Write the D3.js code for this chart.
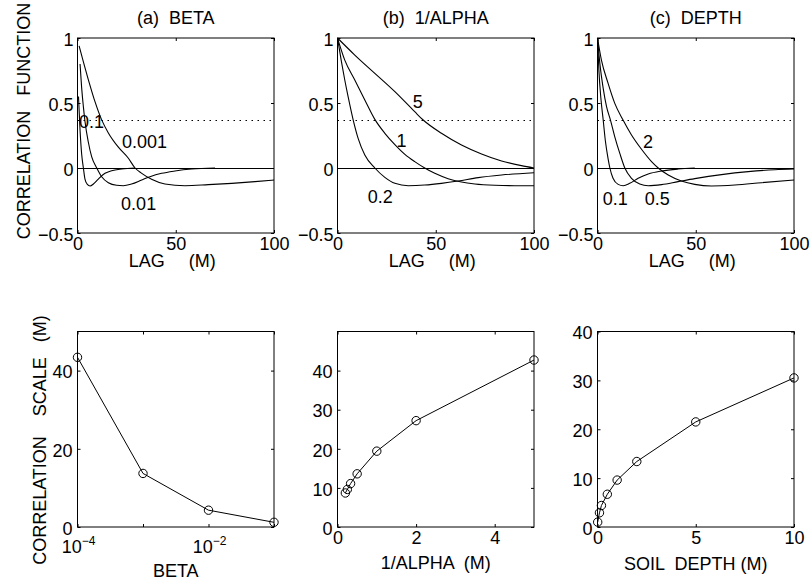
<!DOCTYPE html>
<html><head><meta charset="utf-8">
<script src="https://cdn.jsdelivr.net/npm/d3@7"></script>
<style>
body{margin:0;background:#fff}
text{font-family:"Liberation Sans",Arial,Helvetica,sans-serif;fill:#000}
</style>
</head><body>
<svg id="c" width="811" height="580" xmlns="http://www.w3.org/2000/svg"></svg>
<script>
// ---------------- DATA ----------------
const lagTicks = [0, 50, 100];
const corrTicks = [-0.5, 0, 0.5, 1];
const efoldLevel = 0.368;

// (a) BETA : correlation function vs lag  [lag (m), correlation]
const betaCurve0_001 = [[0.8,0.94],[5.5,0.68],[8.9,0.51],[12.3,0.37],[15.7,0.27],[20.8,0.16],[25.9,0.075],[29.3,0],[32.7,-0.041],[37.7,-0.087],[44.5,-0.123],[54.7,-0.136],[66.6,-0.128],[78.5,-0.118],[90.3,-0.105],[100,-0.092]];
const betaCurve0_01 = [[1.3,0.80],[2.1,0.62],[3.0,0.47],[3.8,0.36],[5.5,0.2],[7.2,0.087],[9.8,0],[12.3,-0.067],[15.7,-0.113],[19.9,-0.133],[23.3,-0.136],[27.5,-0.123],[32.7,-0.092],[36.9,-0.067],[42.8,-0.041],[49.6,-0.023],[58.1,-0.008],[70,0]];
const betaCurve0_1 = [[0.5,0.55],[1.3,0.29],[2.1,0.11],[3.0,0],[3.8,-0.085],[5.0,-0.126],[6.4,-0.138],[8.1,-0.123],[10.6,-0.085],[14,-0.041],[17.4,-0.021],[22.5,-0.008],[29.3,0]];
const betaCurveLabels = ["0.001", "0.01", "0.1"];

// (b) 1/ALPHA
const alphaCurve0_2 = [[0,1],[2,0.818],[3.7,0.677],[5.4,0.549],[8,0.369],[10.5,0.228],[13.9,0.1],[19,0],[24.1,-0.072],[29.2,-0.118],[36,-0.136],[44.4,-0.131],[52.9,-0.118],[61.4,-0.1],[71.6,-0.074],[83.5,-0.054],[100,-0.036]];
const alphaCurve1 = [[0,1],[3.7,0.83],[8.8,0.677],[13.9,0.523],[19,0.374],[24.1,0.267],[29.2,0.18],[34.3,0.105],[39.3,0.049],[44.4,0],[49.5,-0.041],[56.3,-0.082],[63.1,-0.108],[69.9,-0.123],[80.1,-0.133],[90.2,-0.136],[100,-0.136]];
const alphaCurve5 = [[0,1],[8.8,0.869],[19,0.728],[29.2,0.587],[39.3,0.433],[43.6,0.369],[52.9,0.267],[63.1,0.177],[73.3,0.108],[83.5,0.054],[93.6,0.018],[100,0]];
const alphaCurveLabels = ["5", "1", "0.2"];

// (c) DEPTH
const depthCurve0_1 = [[0,1],[0.7,0.754],[1.7,0.54],[2.9,0.369],[4.0,0.21],[5.4,0.07],[6.3,0],[7.9,-0.079],[10.5,-0.126],[13.1,-0.136],[16.4,-0.118],[20.7,-0.079],[25.8,-0.046],[32.6,-0.023],[41,-0.008],[49.5,0]];
const depthCurve0_5 = [[0,1],[1.2,0.805],[2.9,0.613],[4.6,0.472],[6.6,0.369],[8.8,0.24],[11.4,0.11],[13.9,0],[17.3,-0.079],[21.5,-0.123],[25.8,-0.136],[32.6,-0.128],[41,-0.105],[49.5,-0.082],[63.1,-0.051],[76.7,-0.028],[90.2,-0.013],[100,-0.008]];
const depthCurve2 = [[0,1],[2,0.83],[5.4,0.651],[8.8,0.497],[13,0.369],[17.3,0.254],[22.4,0.144],[27.5,0.049],[30.9,0],[36,-0.054],[42.7,-0.1],[49.5,-0.126],[58,-0.138],[69.9,-0.131],[83.5,-0.113],[100,-0.092]];
const depthCurveLabels = ["2", "0.5", "0.1"];

// bottom row: correlation scale (m)
const betaValues = [1e-4, 1e-3, 1e-2, 1e-1];
const betaScale = [43.4, 13.7, 4.3, 1.2];
const betaTickValues = [1e-4, 1e-3, 1e-2, 1e-1];
const betaTickLabels = [["10","\u22124"], null, ["10","\u22122"], null];
const betaScaleTicks = [0, 20, 40];

const invAlphaValues = [0.2, 0.25, 0.333, 0.5, 1, 2, 5];
const invAlphaScale = [8.7, 9.6, 11.1, 13.6, 19.4, 27.2, 42.7];
const invAlphaTicks = [0, 2, 4];
const invAlphaScaleTicks = [0, 10, 20, 30, 40];

const depthValues = [0.01, 0.1, 0.2, 0.5, 1, 2, 5, 10];
const depthScale = [1.0, 2.9, 4.4, 6.7, 9.6, 13.4, 21.5, 30.5];
const depthTicks = [0, 5, 10];
const depthScaleTicks = [0, 10, 20, 30, 40];

// ---------------- LAYOUT ----------------
const FS = 18;
const svg = d3.select("#c");
const lefts = [77.5, 337.5, 597.5];
const PW = 196.5;
const topY0 = 38, topY1 = 233;
const botY0 = 331.5, botY1 = 527;
const TICK = 3;

function box(g, x0, y0, x1, y1) {
  g.append("rect").attr("x", x0).attr("y", y0).attr("width", x1 - x0).attr("height", y1 - y0)
    .attr("fill", "none").attr("stroke", "#000").attr("stroke-width", 1);
}
function styleAxis(sel) {
  sel.select(".domain").remove();
  sel.selectAll(".tick line").attr("stroke", "#000");
  sel.selectAll("text").attr("font-size", FS).attr("fill", "#000").attr("font-family", null);
}
function mirrorTicks(g, x, y, xt, yt, x0, x1, y0, y1) {
  g.append("g").attr("transform", `translate(0,${y0})`).call(d3.axisTop(x).tickValues(xt).tickSize(-TICK).tickFormat("")).call(styleAxis);
  g.append("g").attr("transform", `translate(${x1},0)`).call(d3.axisRight(y).tickValues(yt).tickSize(-TICK).tickFormat("")).call(styleAxis);
}

// ---------------- TOP ROW ----------------
const topPanels = [
  {title: "(a)  BETA", curves: [betaCurve0_001, betaCurve0_01, betaCurve0_1], labels: betaCurveLabels,
   labelPos: [[22.6, 0.154], [22.2, -0.323], [0.8, 0.31]]},
  {title: "(b)  1/ALPHA", curves: [alphaCurve5, alphaCurve1, alphaCurve0_2], labels: alphaCurveLabels,
   labelPos: [[38.3, 0.46], [30.0, 0.16], [15.4, -0.27]]},
  {title: "(c)  DEPTH", curves: [depthCurve2, depthCurve0_5, depthCurve0_1], labels: depthCurveLabels,
   labelPos: [[23.1, 0.154], [24.1, -0.285], [2.7, -0.285]]}
];

topPanels.forEach((p, i) => {
  const x0 = lefts[i], x1 = x0 + PW;
  const x = d3.scaleLinear().domain([0, 100]).range([x0, x1]);
  const y = d3.scaleLinear().domain([-0.5, 1]).range([topY1, topY0]);
  const g = svg.append("g");

  // reference lines
  g.append("line").attr("x1", x(0)).attr("x2", x(100)).attr("y1", Math.round(y(0)) + 0.5).attr("y2", Math.round(y(0)) + 0.5)
    .attr("stroke", "#000").attr("stroke-width", 1);
  g.append("line").attr("x1", x(0)).attr("x2", x(100)).attr("y1", Math.round(y(efoldLevel)) + 0.5).attr("y2", Math.round(y(efoldLevel)) + 0.5)
    .attr("stroke", "#000").attr("stroke-width", 1).attr("stroke-dasharray", "1.5,4.5");

  const line = d3.line().x(d => x(d[0])).y(d => y(d[1])).curve(d3.curveMonotoneX);
  p.curves.forEach(c => {
    g.append("path").attr("d", line(c)).attr("fill", "none").attr("stroke", "#000").attr("stroke-width", 1.1);
  });
  p.labels.forEach((t, k) => {
    g.append("text").attr("x", x(p.labelPos[k][0])).attr("y", y(p.labelPos[k][1]))
      .attr("font-size", FS).text(t);
  });

  box(g, x0, topY0, x1, topY1);
  g.append("g").attr("transform", `translate(0,${topY1})`)
    .call(d3.axisBottom(x).tickValues(lagTicks).tickSize(-TICK).tickPadding(4).tickFormat(d3.format("d")))
    .call(styleAxis);
  g.append("g").attr("transform", `translate(${x0},0)`)
    .call(d3.axisLeft(y).tickValues(corrTicks).tickSize(-TICK).tickPadding(4)
      .tickFormat(d => d === 0 || d === 1 ? String(d) : (d < 0 ? "\u22120.5" : "0.5")))
    .call(styleAxis)
    .selectAll("text").attr("dy", "0.4em");
  mirrorTicks(g, x, y, lagTicks, corrTicks, x0, x1, topY0, topY1);

  g.append("text").attr("x", (x0 + x1) / 2).attr("y", 24).attr("text-anchor", "middle")
    .attr("font-size", FS).style("white-space", "pre").text(p.title);
  // axis label split around the middle tick label, as in the original
  g.append("text").attr("x", x(50) - 11).attr("y", 267).attr("text-anchor", "end")
    .attr("font-size", FS).text("LAG");
  g.append("text").attr("x", x(50) + 13).attr("y", 267).attr("text-anchor", "start")
    .attr("font-size", FS).text("(M)");
});

svg.append("text").attr("transform", "translate(30,121) rotate(-90)").attr("text-anchor", "middle")
  .attr("font-size", FS).style("white-space", "pre").text("CORRELATION   FUNCTION");

// ---------------- BOTTOM ROW ----------------
function bottomPanel(i, x, y, xs, ys, xTicks, yTicks, xFmt, xlabel, xlabelY) {
  const x0 = lefts[i], x1 = x0 + PW;
  const g = svg.append("g");
  const pts = xs.map((v, k) => [v, ys[k]]);
  g.append("path").attr("d", d3.line().x(d => x(d[0])).y(d => y(d[1]))(pts))
    .attr("fill", "none").attr("stroke", "#000").attr("stroke-width", 1);
  g.selectAll("circle.m").data(pts).enter().append("circle")
    .attr("cx", d => x(d[0])).attr("cy", d => y(d[1])).attr("r", 4.2)
    .attr("fill", "none").attr("stroke", "#000").attr("stroke-width", 1);
  box(g, x0, botY0, x1, botY1);
  const xa = g.append("g").attr("transform", `translate(0,${botY1})`)
    .call(d3.axisBottom(x).tickValues(xTicks).tickSize(-TICK).tickPadding(4).tickFormat(xFmt))
    .call(styleAxis);
  g.append("g").attr("transform", `translate(${x0},0)`)
    .call(d3.axisLeft(y).tickValues(yTicks).tickSize(-TICK).tickPadding(5).tickFormat(d3.format("d")))
    .call(styleAxis)
    .selectAll("text").attr("dy", "0.4em");
  mirrorTicks(g, x, y, xTicks, yTicks, x0, x1, botY0, botY1);
  g.append("text").attr("x", (x0 + x1) / 2).attr("y", xlabelY).attr("text-anchor", "middle")
    .attr("font-size", FS).style("white-space", "pre").text(xlabel);
  return {g, xa};
}

// (a) beta, log axis
{
  const x = d3.scaleLog().domain([1e-4, 1e-1]).range([lefts[0], lefts[0] + PW]);
  const y = d3.scaleLinear().domain([0, 50]).range([botY1, botY0]);
  const r = bottomPanel(0, x, y, betaValues, betaScale, betaTickValues, betaScaleTicks, () => "", "BETA", 577);
  betaTickValues.forEach((v, k) => {
    const lab = betaTickLabels[k];
    if (!lab) return;
    const t = r.g.append("text").attr("x", x(v) + 1).attr("y", 553).attr("text-anchor", "middle").attr("font-size", FS);
    t.append("tspan").text(lab[0]);
    t.append("tspan").attr("dy", -8).attr("font-size", 12).text(lab[1]);
  });
}
// (b) 1/alpha
{
  const x = d3.scaleLinear().domain([0, 5]).range([lefts[1], lefts[1] + PW]);
  const y = d3.scaleLinear().domain([0, 50]).range([botY1, botY0]);
  bottomPanel(1, x, y, invAlphaValues, invAlphaScale, invAlphaTicks, invAlphaScaleTicks, d3.format("d"), "1/ALPHA  (M)", 569);
}
// (c) depth
{
  const x = d3.scaleLinear().domain([0, 10]).range([lefts[2], lefts[2] + PW]);
  const y = d3.scaleLinear().domain([0, 40]).range([botY1, botY0]);
  bottomPanel(2, x, y, depthValues, depthScale, depthTicks, depthScaleTicks, d3.format("d"), "SOIL  DEPTH (M)", 570);
}

svg.append("text").attr("transform", "translate(46,440) rotate(-90)").attr("text-anchor", "middle")
  .attr("font-size", FS).style("white-space", "pre").text("CORRELATION    SCALE   (M)");
</script>
</body></html>
